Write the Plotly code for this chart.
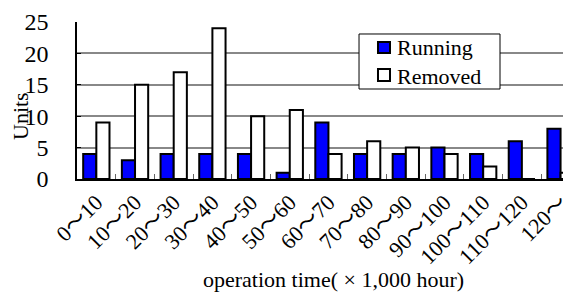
import plotly.graph_objects as go

categories = ["0〜10", "10〜20", "20〜30", "30〜40", "40〜50", "50〜60", "60〜70",
              "70〜80", "80〜90", "90〜100", "100〜110", "110〜120", "120〜"]
running = [4, 3, 4, 4, 4, 1, 9, 4, 4, 5, 4, 6, 8]
removed = [9, 15, 17, 24, 10, 11, 4, 6, 5, 4, 2, 0, 1]
y_ticks = [0, 5, 10, 15, 20, 25]
series_names = ["Running", "Removed"]
series_colors = ["#0000FF", "white"]

FONT = "Liberation Serif, Noto Sans CJK JP"

fig = go.Figure()
for name, vals, col in zip(series_names, [running, removed], series_colors):
    fig.add_trace(go.Bar(x=categories, y=vals, name=name,
                         marker=dict(color=col, line=dict(color="black", width=2))))

# legend box drawn in paper coordinates (compact, like the reference)
shapes = [dict(type="rect", xref="paper", yref="paper", x0=0.5709, x1=0.8563,
               y0=0.5732, y1=0.9236, fillcolor="white", line=dict(color="black", width=1),
               layer="above")]
annotations = []
sym_y = [(0.8025, 0.8726), (0.6242, 0.7006)]
txt_y = [0.8344, 0.656]
for name, col, (y0, y1), ty in zip(series_names, series_colors, sym_y, txt_y):
    shapes.append(dict(type="rect", xref="paper", yref="paper", x0=0.6093, x1=0.6336,
                       y0=y0, y1=y1, fillcolor=col, line=dict(color="black", width=2),
                       layer="above"))
    annotations.append(dict(text=name, xref="paper", yref="paper", x=0.6437, y=ty,
                            xanchor="left", yanchor="middle", showarrow=False,
                            font=dict(family=FONT, size=22)))

annotations += [
    dict(text="Units", xref="paper", yref="paper", x=(20 - 77) / 494, y=(179 - 116) / 157,
         textangle=-90, showarrow=False, font=dict(family=FONT, size=22),
         xanchor="center", yanchor="middle"),
    dict(text="operation time( × 1,000 hour)", xref="paper", yref="paper",
         x=(333 - 77) / 494, y=-(279 - 179) / 157, showarrow=False,
         font=dict(family=FONT, size=22), xanchor="center", yanchor="middle"),
]

# page body has an 8px margin, so the figure is sized to fit the window
fig.update_layout(
    width=563, height=284,
    margin=dict(l=69, r=0, t=14, b=113, autoexpand=False),
    paper_bgcolor="white", plot_bgcolor="white",
    barmode="group", bargap=0.32, bargroupgap=0,
    font=dict(family=FONT, size=22, color="black"),
    showlegend=False,
    xaxis=dict(type="category", range=[-0.5, 12.27], automargin=False,
               tickangle=-45, tickfont=dict(family=FONT, size=22),
               showline=True, linecolor="black", linewidth=1.5,
               ticks="inside", tickson="boundaries", ticklen=5, tickcolor="#666",
               showgrid=False),
    yaxis=dict(range=[0, 25], tickvals=y_ticks, tickfont=dict(family=FONT, size=24),
               automargin=False,
               showgrid=True, gridcolor="#888", gridwidth=1.5,
               showline=True, linecolor="black", linewidth=1.5,
               ticks="inside", ticklen=4, tickcolor="black",
               ticklabelstandoff=22, zeroline=False),
    shapes=shapes,
    annotations=annotations,
)

fig.write_html("out.html")
